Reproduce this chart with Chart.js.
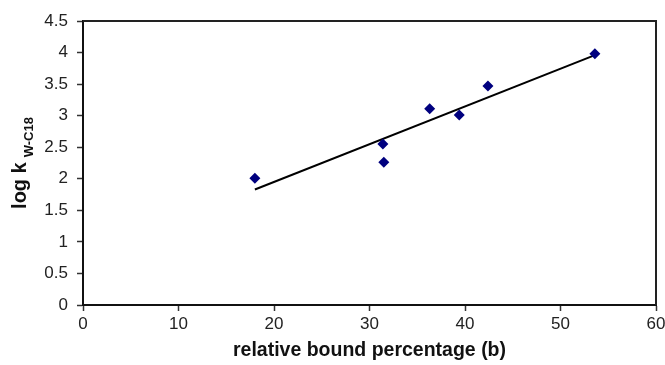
<!DOCTYPE html>
<html>
<head>
<meta charset="utf-8">
<script src="https://cdn.jsdelivr.net/npm/chart.js@4"></script>
<style>
  html, body { margin: 0; padding: 0; background: #fff; }
  #wrap { width: 665px; height: 365px; }
</style>
</head>
<body>
<div id="wrap"><canvas id="chart" width="665" height="365"></canvas></div>
<script>
// Measured points
const boundPct = [18.0, 31.4, 31.5, 36.3, 39.4, 42.4, 53.6];
const logK = [2.01, 2.55, 2.26, 3.11, 3.01, 3.47, 3.98];

// Trendline ends
const trendX = [18.0, 53.6];
const trendY = [1.83, 3.96];

const xTitle = "relative bound percentage (b)";
const yTitleMain = "log k";
const yTitleSub = "W-C18";

const FONT = "'Liberation Sans', Arial, Helvetica, sans-serif";

// frame round the plot area + y title with subscript
const framePlugin = {
    id: "frame",
    afterDraw(chart) {
        const ctx = chart.ctx;
        const a = chart.chartArea;
        ctx.save();
        ctx.strokeStyle = "#222";
        ctx.lineWidth = 2;
        ctx.beginPath();
        ctx.moveTo(a.left, a.top);
        ctx.lineTo(a.right, a.top);
        ctx.lineTo(a.right, a.bottom);
        ctx.stroke();

        // y axis title
        const cy = (a.top + a.bottom) / 2;
        ctx.translate(26, cy);
        ctx.rotate(-Math.PI / 2);
        ctx.fillStyle = "#111";
        ctx.textBaseline = "alphabetic";
        ctx.textAlign = "left";
        const mainFont = "bold 20px " + FONT;
        const subFont = "bold 13px " + FONT;
        ctx.font = mainFont;
        const wm = ctx.measureText(yTitleMain).width;
        const gap = 5;
        ctx.font = subFont;
        const ws = ctx.measureText(yTitleSub).width;
        const start = -(wm + gap + ws) / 2;
        ctx.font = mainFont;
        ctx.fillText(yTitleMain, start, 0);
        ctx.font = subFont;
        ctx.fillText(yTitleSub, start + wm + gap, 7);
        ctx.restore();
    }
};

const ctx = document.getElementById("chart").getContext("2d");
new Chart(ctx, {
    type: "scatter",
    data: {
        datasets: [
            {
                label: "log k",
                data: boundPct.map((x, i) => ({ x: x, y: logK[i] })),
                backgroundColor: "#00007f",
                borderColor: "#00007f",
                pointStyle: "rectRot",
                pointRadius: 5.5,
                borderWidth: 0
            },
            {
                type: "line",
                label: "trend",
                data: trendX.map((x, i) => ({ x: x, y: trendY[i] })),
                borderColor: "#000",
                borderWidth: 2,
                pointRadius: 0,
                fill: false
            }
        ]
    },
    options: {
        responsive: false,
        animation: false,
        layout: { padding: { top: 21, right: 9, left: 0, bottom: 0 } },
        plugins: {
            legend: { display: false },
            tooltip: { enabled: false }
        },
        scales: {
            x: {
                type: "linear",
                min: 0,
                max: 60,
                afterFit(scale) {
                    scale.height = 60;
                    scale.paddingLeft = 0;
                    scale.paddingRight = 0;
                },
                ticks: {
                    stepSize: 10,
                    padding: 3,
                    color: "#222",
                    font: { family: FONT, size: 17 }
                },
                grid: {
                    drawOnChartArea: false,
                    tickLength: 6,
                    tickWidth: 1.5,
                    tickColor: "#333"
                },
                border: { color: "#111", width: 2 },
                title: {
                    display: true,
                    text: xTitle,
                    color: "#111",
                    padding: { top: 0, bottom: 3 },
                    font: { family: FONT, size: 19.5, weight: "bold" }
                }
            },
            y: {
                min: 0,
                max: 4.5,
                afterFit(scale) {
                    scale.width = 83;
                    scale.paddingTop = 0;
                    scale.paddingBottom = 0;
                },
                ticks: {
                    stepSize: 0.5,
                    padding: 9,
                    color: "#222",
                    font: { family: FONT, size: 17 },
                    callback: (v) => String(v)
                },
                grid: {
                    drawOnChartArea: false,
                    tickLength: 6,
                    tickWidth: 1.5,
                    tickColor: "#333"
                },
                border: { color: "#111", width: 2 }
            }
        }
    },
    plugins: [framePlugin]
});
</script>
</body>
</html>
